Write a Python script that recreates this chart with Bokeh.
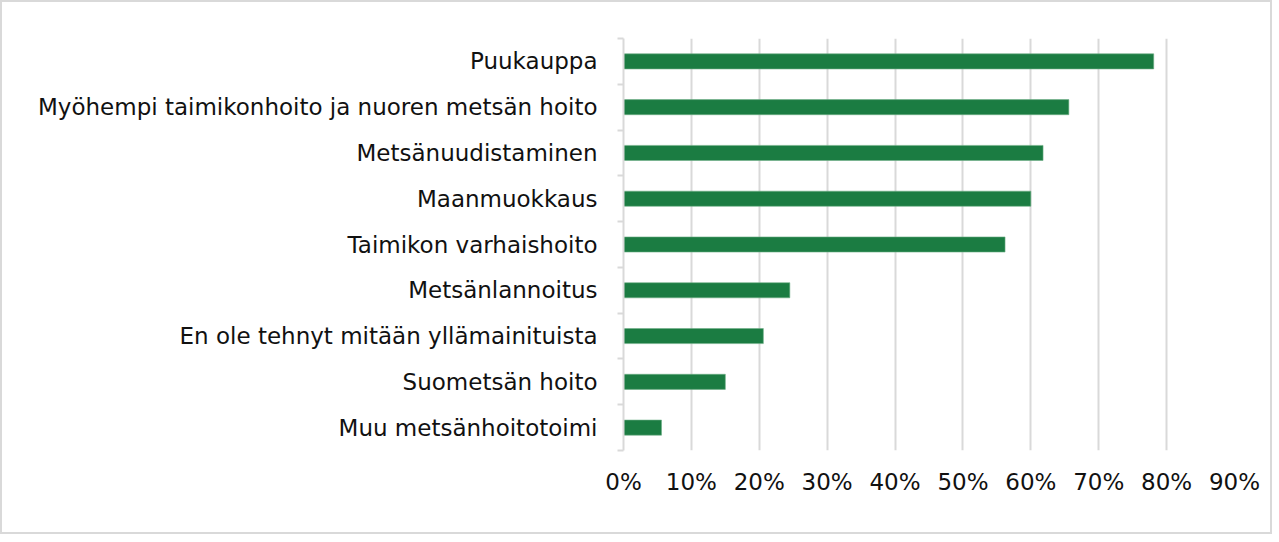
from bokeh.plotting import figure
from bokeh.models import FixedTicker
from bokeh.embed import file_html
from bokeh.resources import INLINE

categories = [
    "Puukauppa",
    "Myöhempi taimikonhoito ja nuoren metsän hoito",
    "Metsänuudistaminen",
    "Maanmuokkaus",
    "Taimikon varhaishoito",
    "Metsänlannoitus",
    "En ole tehnyt mitään yllämainituista",
    "Suometsän hoito",
    "Muu metsänhoitotoimi",
]
values = [78.1, 65.6, 61.8, 60.0, 56.2, 24.5, 20.6, 15.0, 5.6]
x_ticks = [0, 10, 20, 30, 40, 50, 60, 70, 80, 90]

n = len(categories)
ypos = [n - i - 0.5 for i in range(n)]

p = figure(width=1272, height=534, output_backend="svg", toolbar_location=None,
           x_range=(0, 90), y_range=(0, n),
           min_border_left=621, min_border_right=40, min_border_top=36, min_border_bottom=86)
p.styles = {"border": "2px solid #d9d9d9", "box-sizing": "border-box"}

p.hbar(y=ypos, right=values, left=0, height=0.33, color="#1b7c42",
       line_color="#6fae87", line_width=0.6)

p.outline_line_color = None
p.ygrid.grid_line_color = None
p.xgrid.ticker = FixedTicker(ticks=x_ticks)
p.xgrid.grid_line_color = "#d9d9d9"
p.xgrid.grid_line_width = 2

p.xaxis.ticker = FixedTicker(ticks=x_ticks)
p.xaxis.major_label_overrides = {t: f"{t}%" for t in x_ticks}
p.xaxis.axis_line_color = None
p.xaxis.major_tick_line_color = None
p.xaxis.minor_tick_line_color = None
p.xaxis.major_label_standoff = 12
p.xaxis.major_label_text_font = "DejaVu Sans"
p.xaxis.major_label_text_font_size = "23px"
p.xaxis.major_label_text_color = "#111111"

p.yaxis.ticker = FixedTicker(ticks=ypos, minor_ticks=list(range(0, n + 1)))
p.yaxis.major_label_overrides = {y: c for y, c in zip(ypos, categories)}
p.yaxis.axis_line_color = "#d9d9d9"
p.yaxis.axis_line_width = 2
p.yaxis.major_tick_line_color = None
p.yaxis.minor_tick_line_color = "#d9d9d9"
p.yaxis.minor_tick_line_width = 2
p.yaxis.minor_tick_out = 6
p.yaxis.minor_tick_in = 0
p.yaxis.major_label_standoff = 20
p.yaxis.major_label_text_font = "DejaVu Sans"
p.yaxis.major_label_text_font_size = "23px"
p.yaxis.major_label_text_color = "#111111"

open("out.html", "w").write(file_html(p, INLINE))
